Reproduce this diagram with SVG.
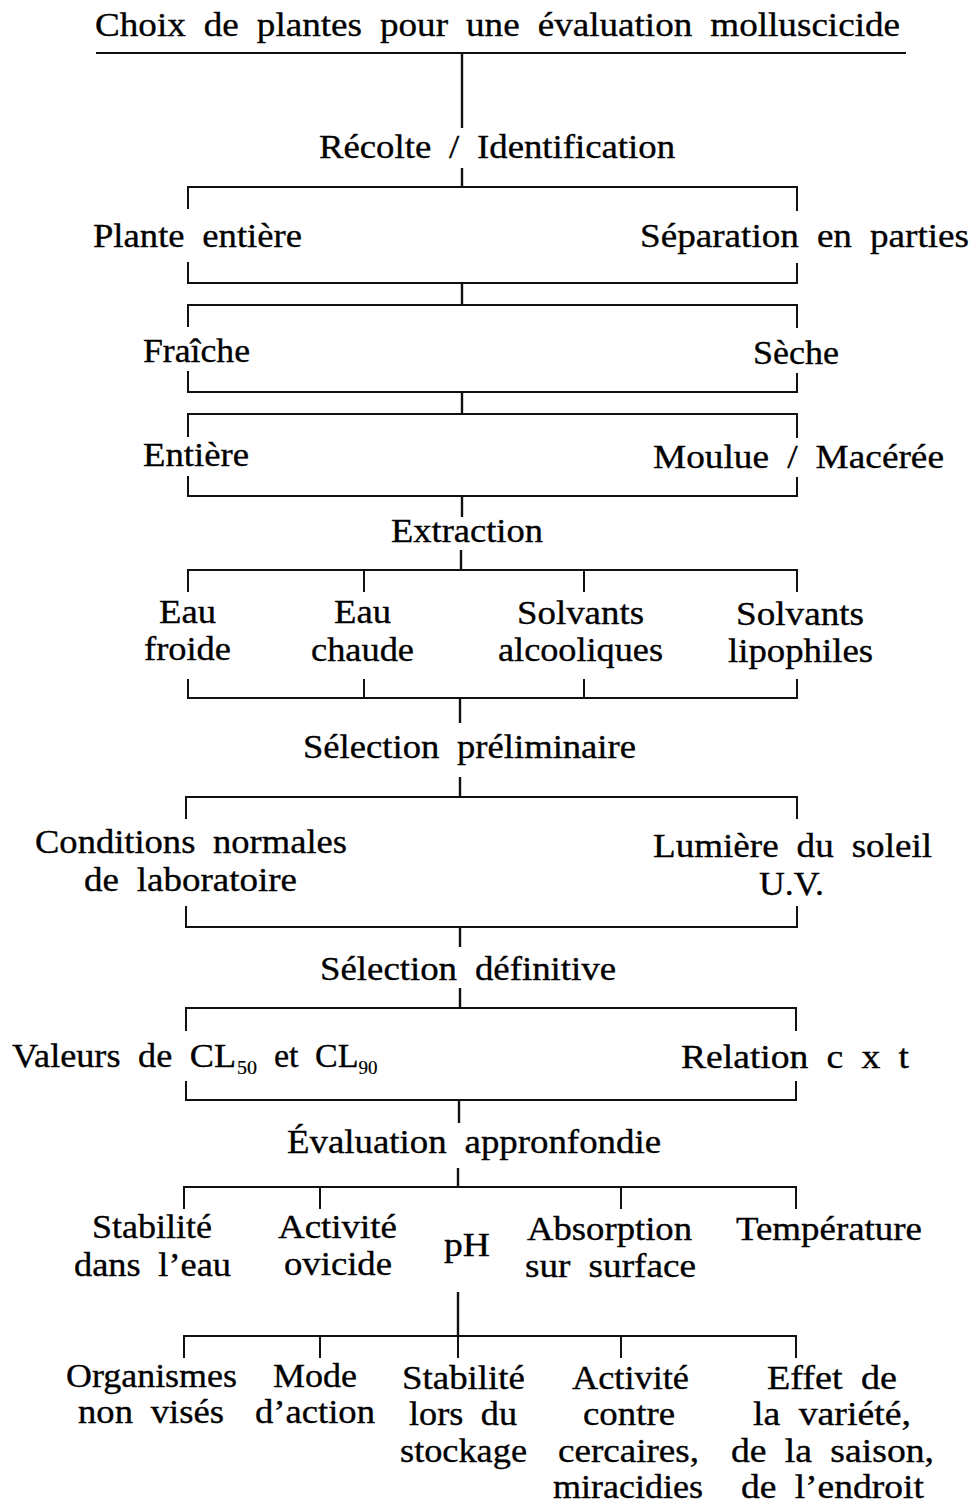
<svg xmlns="http://www.w3.org/2000/svg" width="978" height="1508" viewBox="0 0 978 1508">
<style>
text{font-family:"Liberation Serif","Times New Roman",serif;font-size:34px;fill:#000;stroke:#000;stroke-width:0.35;word-spacing:8px;}
.sub{font-size:19px;stroke-width:0.2;}
.ln{fill:none;stroke:#111;stroke-width:2;stroke-linecap:square;}
.tr{fill:none;stroke:#111;stroke-width:2.4;}
</style>
<rect width="978" height="1508" fill="#fff"/>
<g id="connectors">
<path class="ln" d="M97,53 H905"/>
<path class="tr" d="M462,53 V128 M462,168 V187 M462,283 V305 M462,392 V414 M462,496 V517 M461,550 V570 M460,698 V723 M460,777 V797 M460,927 V947 M460,988 V1008 M459,1100 V1123 M458,1168 V1187 M458,1292 V1336"/>
<path class="ln" d="M188,208 V187 H797 V210"/>
<path class="ln" d="M188,263 V283 H797 V264"/>
<path class="ln" d="M188,326 V305 H797 V327"/>
<path class="ln" d="M188,372 V392 H797 V374"/>
<path class="ln" d="M188,436 V414 H797 V437"/>
<path class="ln" d="M188,477 V496 H797 V478"/>
<path class="ln" d="M188,591 V570 H797 V591 M364,570 V591 M584,570 V591"/>
<path class="ln" d="M188,680 V698 H797 V680 M364,680 V698 M584,680 V698"/>
<path class="ln" d="M186,818 V797 H797 V818"/>
<path class="ln" d="M186,907 V927 H797 V907"/>
<path class="ln" d="M186,1030 V1008 H796 V1030"/>
<path class="ln" d="M186,1082 V1100 H796 V1082"/>
<path class="ln" d="M184,1208 V1187 H796 V1208 M320,1187 V1208 M621,1187 V1208"/>
<path class="ln" d="M184,1357 V1336 H796 V1357 M320,1336 V1357 M458,1336 V1357 M621,1336 V1357"/>
</g>
<g id="n-titre"><text x="95" y="36" textLength="805" lengthAdjust="spacingAndGlyphs">Choix de plantes pour une évaluation molluscicide</text></g>
<g id="n-recolte"><text x="319" y="158" textLength="356" lengthAdjust="spacingAndGlyphs">Récolte / Identification</text></g>
<g id="n-plante-entiere"><text x="93" y="247" textLength="209" lengthAdjust="spacingAndGlyphs">Plante entière</text></g>
<g id="n-separation"><text x="640" y="247" textLength="329" lengthAdjust="spacingAndGlyphs">Séparation en parties</text></g>
<g id="n-fraiche"><text x="143" y="362" textLength="107" lengthAdjust="spacingAndGlyphs">Fraîche</text></g>
<g id="n-seche"><text x="753" y="364" textLength="86" lengthAdjust="spacingAndGlyphs">Sèche</text></g>
<g id="n-entiere"><text x="143" y="466" textLength="106" lengthAdjust="spacingAndGlyphs">Entière</text></g>
<g id="n-moulue"><text x="653" y="468" textLength="291" lengthAdjust="spacingAndGlyphs">Moulue / Macérée</text></g>
<g id="n-extraction"><text x="391" y="542" textLength="152" lengthAdjust="spacingAndGlyphs">Extraction</text></g>
<g id="n-eau-froide">
<text x="159" y="623" textLength="57" lengthAdjust="spacingAndGlyphs">Eau</text>
<text x="144" y="660" textLength="87" lengthAdjust="spacingAndGlyphs">froide</text>
</g>
<g id="n-eau-chaude">
<text x="334" y="623" textLength="57" lengthAdjust="spacingAndGlyphs">Eau</text>
<text x="311" y="661" textLength="103" lengthAdjust="spacingAndGlyphs">chaude</text>
</g>
<g id="n-solvants-alcooliques">
<text x="517" y="624" textLength="127" lengthAdjust="spacingAndGlyphs">Solvants</text>
<text x="498" y="661" textLength="165" lengthAdjust="spacingAndGlyphs">alcooliques</text>
</g>
<g id="n-solvants-lipophiles">
<text x="736" y="625" textLength="128" lengthAdjust="spacingAndGlyphs">Solvants</text>
<text x="728" y="662" textLength="145" lengthAdjust="spacingAndGlyphs">lipophiles</text>
</g>
<g id="n-selection-preliminaire"><text x="303" y="758" textLength="333" lengthAdjust="spacingAndGlyphs">Sélection préliminaire</text></g>
<g id="n-conditions">
<text x="35" y="853" textLength="312" lengthAdjust="spacingAndGlyphs">Conditions normales</text>
<text x="84" y="891" textLength="213" lengthAdjust="spacingAndGlyphs">de laboratoire</text>
</g>
<g id="n-lumiere">
<text x="653" y="857" textLength="279" lengthAdjust="spacingAndGlyphs">Lumière du soleil</text>
<text x="759" y="895" textLength="65" lengthAdjust="spacingAndGlyphs">U.V.</text>
</g>
<g id="n-selection-definitive"><text x="320" y="980" textLength="296" lengthAdjust="spacingAndGlyphs">Sélection définitive</text></g>
<g id="n-valeurs">
<text x="12" y="1067" textLength="224" lengthAdjust="spacingAndGlyphs">Valeurs de CL</text>
<text class="sub" x="237" y="1074" textLength="20" lengthAdjust="spacingAndGlyphs">50</text>
<text x="274" y="1067">et CL<tspan class="sub" dy="7">90</tspan></text>
</g>
<g id="n-relation"><text x="681" y="1068" textLength="228" lengthAdjust="spacingAndGlyphs">Relation c x t</text></g>
<g id="n-evaluation"><text x="287" y="1153" textLength="374" lengthAdjust="spacingAndGlyphs">Évaluation appronfondie</text></g>
<g id="n-stabilite-eau">
<text x="92" y="1238" textLength="120" lengthAdjust="spacingAndGlyphs">Stabilité</text>
<text x="74" y="1276" textLength="157" lengthAdjust="spacingAndGlyphs">dans l’eau</text>
</g>
<g id="n-activite-ovicide">
<text x="278" y="1238" textLength="119" lengthAdjust="spacingAndGlyphs">Activité</text>
<text x="284" y="1275" textLength="108" lengthAdjust="spacingAndGlyphs">ovicide</text>
</g>
<g id="n-ph"><text x="444" y="1256" textLength="46" lengthAdjust="spacingAndGlyphs">pH</text></g>
<g id="n-absorption">
<text x="527" y="1240" textLength="165" lengthAdjust="spacingAndGlyphs">Absorption</text>
<text x="525" y="1277" textLength="171" lengthAdjust="spacingAndGlyphs">sur surface</text>
</g>
<g id="n-temperature"><text x="736" y="1240" textLength="186" lengthAdjust="spacingAndGlyphs">Température</text></g>
<g id="n-organismes">
<text x="66" y="1387" textLength="171" lengthAdjust="spacingAndGlyphs">Organismes</text>
<text x="78" y="1423" textLength="146" lengthAdjust="spacingAndGlyphs">non visés</text>
</g>
<g id="n-mode">
<text x="273" y="1387" textLength="84" lengthAdjust="spacingAndGlyphs">Mode</text>
<text x="255" y="1423" textLength="120" lengthAdjust="spacingAndGlyphs">d’action</text>
</g>
<g id="n-stabilite-stockage">
<text x="402" y="1389" textLength="123" lengthAdjust="spacingAndGlyphs">Stabilité</text>
<text x="409" y="1425" textLength="108" lengthAdjust="spacingAndGlyphs">lors du</text>
<text x="400" y="1462" textLength="127" lengthAdjust="spacingAndGlyphs">stockage</text>
</g>
<g id="n-activite-cercaires">
<text x="572" y="1389" textLength="117" lengthAdjust="spacingAndGlyphs">Activité</text>
<text x="583" y="1425" textLength="92" lengthAdjust="spacingAndGlyphs">contre</text>
<text x="558" y="1462" textLength="141" lengthAdjust="spacingAndGlyphs">cercaires,</text>
<text x="553" y="1498" textLength="150" lengthAdjust="spacingAndGlyphs">miracidies</text>
</g>
<g id="n-effet">
<text x="767" y="1389" textLength="130" lengthAdjust="spacingAndGlyphs">Effet de</text>
<text x="753" y="1425" textLength="158" lengthAdjust="spacingAndGlyphs">la variété,</text>
<text x="731" y="1462" textLength="203" lengthAdjust="spacingAndGlyphs">de la saison,</text>
<text x="741" y="1498" textLength="183" lengthAdjust="spacingAndGlyphs">de l’endroit</text>
</g>
</svg>
